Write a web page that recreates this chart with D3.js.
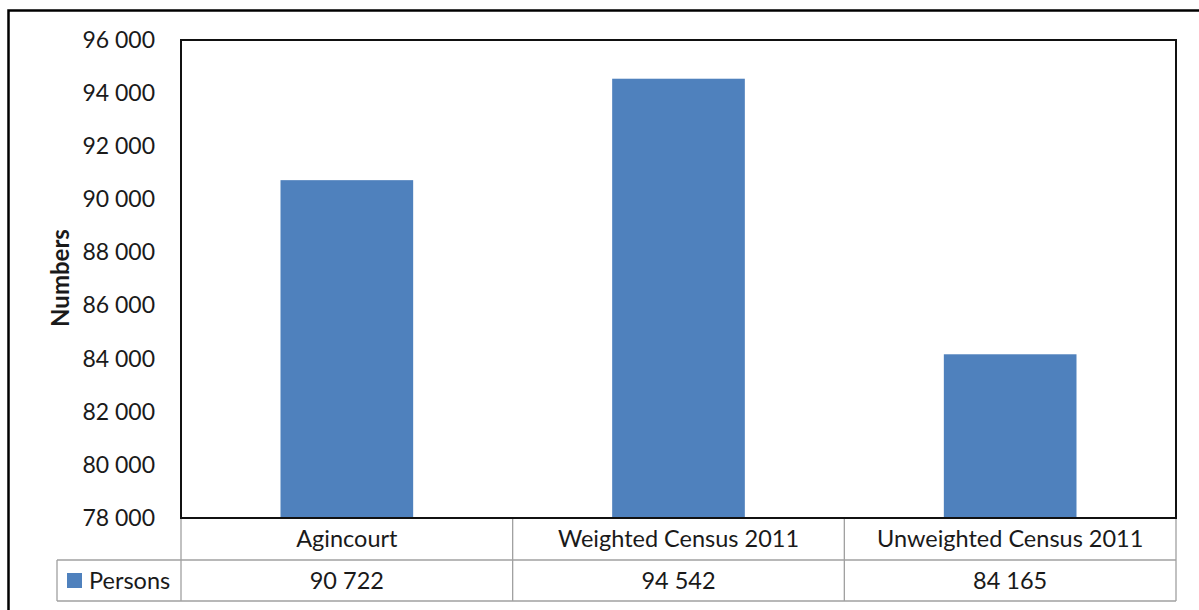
<!DOCTYPE html>
<html>
<head>
<meta charset="utf-8">
<script src="https://cdn.jsdelivr.net/npm/d3@7"></script>
<style>
  html, body { margin: 0; padding: 0; background: #fff; }
  svg { display: block; }
  text { font-family: Lato, "Open Sans", sans-serif; fill: #1a1a1a; }
</style>
</head>
<body>
<svg id="chart" width="1199" height="610"></svg>
<script>
// Population counts by source
const categories = ["Agincourt", "Weighted Census 2011", "Unweighted Census 2011"];
const persons = [90722, 94542, 84165];
const seriesName = "Persons";
const yTicks = [78000, 80000, 82000, 84000, 86000, 88000, 90000, 92000, 94000, 96000];
const yTitle = "Numbers";

const W = 1199, H = 610;
const plot = { left: 181, top: 40, right: 1176, bottom: 518 };
const table = { legendLeft: 57, row1: 518, row2: 560, bottom: 601 };
const barColor = "#4F81BD";
const fontSize = 23.5;
const fmt = v => d3.format(",")(v).replace(/,/g, " ");

const svg = d3.select("#chart");

// Outer chart frame (runs off the right and bottom edges)
svg.append("rect")
  .attr("x", 8.5).attr("y", 10.5)
  .attr("width", W + 20).attr("height", H + 20)
  .attr("fill", "none").attr("stroke", "#000").attr("stroke-width", 2.5);

const x = d3.scaleBand()
  .domain(categories)
  .range([plot.left, plot.right])
  .paddingInner(0.6)
  .paddingOuter(0.3);

const xCol = d3.scaleBand()
  .domain(categories)
  .range([plot.left, plot.right])
  .padding(0);

const y = d3.scaleLinear()
  .domain([78000, 96000])
  .range([plot.bottom, plot.top]);

// Bars
svg.append("g").selectAll("rect")
  .data(categories.map((c, i) => ({ c, v: persons[i] })))
  .join("rect")
  .attr("x", d => x(d.c))
  .attr("y", d => y(d.v))
  .attr("width", x.bandwidth())
  .attr("height", d => y(78000) - y(d.v))
  .attr("fill", barColor);

// Value axis labels (no tick marks or domain line)
const yAxis = d3.axisLeft(y).tickValues(yTicks).tickFormat(fmt).tickSize(0).tickPadding(26);
const gy = svg.append("g").attr("transform", `translate(${plot.left},0)`).call(yAxis);
gy.select(".domain").remove();
gy.selectAll("text")
  .attr("font-family", "Lato, 'Open Sans', sans-serif")
  .attr("font-size", 23)
  .attr("fill", "#1a1a1a");

// Axis title
svg.append("text")
  .attr("transform", `translate(69,278) rotate(-90)`)
  .attr("text-anchor", "middle")
  .attr("font-size", 24)
  .attr("font-weight", "bold")
  .attr("fill", "#000")
  .text(yTitle);

// Data table grid
const grid = svg.append("g").attr("stroke", "#a0a0a0").attr("stroke-width", 1.3).attr("fill", "none");
const colEdges = categories.map(c => xCol(c)).concat([plot.right]);
colEdges.forEach(xe => {
  grid.append("line").attr("x1", xe).attr("x2", xe).attr("y1", table.row1).attr("y2", table.bottom);
});
grid.append("line").attr("x1", table.legendLeft).attr("x2", plot.right).attr("y1", table.row2).attr("y2", table.row2);
grid.append("line").attr("x1", table.legendLeft).attr("x2", plot.right).attr("y1", table.bottom).attr("y2", table.bottom);
grid.append("line").attr("x1", table.legendLeft).attr("x2", table.legendLeft).attr("y1", table.row2).attr("y2", table.bottom);

// Category labels row
svg.append("g").selectAll("text")
  .data(categories)
  .join("text")
  .attr("x", c => xCol(c) + xCol.bandwidth() / 2)
  .attr("y", (table.row1 + table.row2) / 2)
  .attr("dy", "0.36em")
  .attr("text-anchor", "middle")
  .attr("font-size", fontSize)
  .text(c => c);

// Value row
svg.append("g").selectAll("text")
  .data(categories.map((c, i) => ({ c, v: persons[i] })))
  .join("text")
  .attr("x", d => xCol(d.c) + xCol.bandwidth() / 2)
  .attr("y", (table.row2 + table.bottom) / 2)
  .attr("dy", "0.36em")
  .attr("text-anchor", "middle")
  .attr("font-size", fontSize)
  .text(d => fmt(d.v));

// Legend key inside the table
svg.append("rect")
  .attr("x", 67).attr("y", 573).attr("width", 15).attr("height", 15)
  .attr("fill", barColor);
svg.append("text")
  .attr("x", 89)
  .attr("y", (table.row2 + table.bottom) / 2)
  .attr("dy", "0.36em")
  .attr("font-size", fontSize)
  .text(seriesName);

// Plot area border
svg.append("rect")
  .attr("x", plot.left).attr("y", plot.top)
  .attr("width", plot.right - plot.left).attr("height", plot.bottom - plot.top)
  .attr("fill", "none").attr("stroke", "#111").attr("stroke-width", 2);
</script>
</body>
</html>
